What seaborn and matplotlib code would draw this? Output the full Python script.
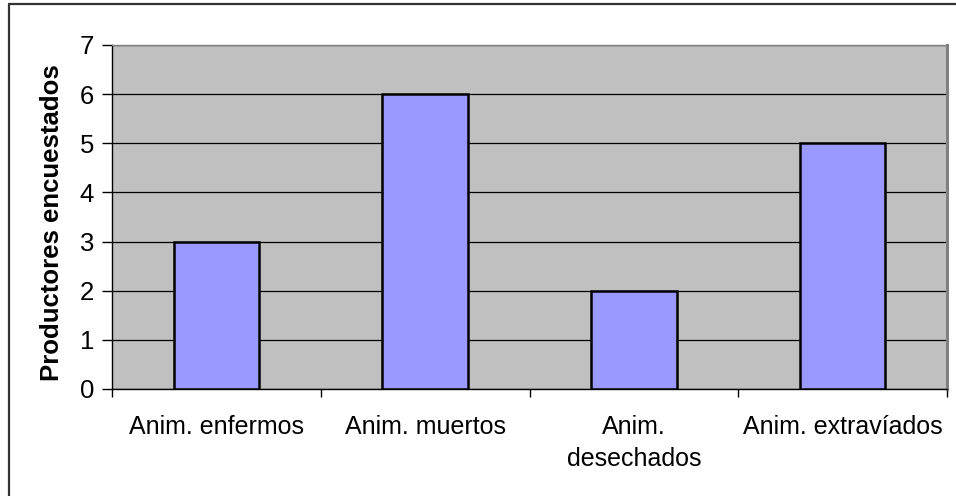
import matplotlib
matplotlib.use("Agg")
import matplotlib.pyplot as plt
import seaborn as sns
import pandas as pd
from matplotlib.lines import Line2D

categories = ["Anim. enfermos", "Anim. muertos", "Anim.\ndesechados", "Anim. extravíados"]
values = [3, 6, 2, 5]
y_ticks = [0, 1, 2, 3, 4, 5, 6, 7]
y_label = "Productores encuestados"

df = pd.DataFrame({"cat": categories, "val": values})

sns.set_theme(style="white")
plt.rcParams["font.family"] = ["Liberation Sans", "DejaVu Sans"]

fig = plt.figure(figsize=(9.56, 4.96), dpi=100)
ax = fig.add_axes([112/956, 1-389/496, (947-112)/956, (389-45)/496])
ax.set_facecolor("#C0C0C0")

sns.barplot(data=df, x="cat", y="val", ax=ax, color="#9999FF", width=0.41,
            edgecolor="black", linewidth=1.8, saturation=1, zorder=3)

ax.set_ylim(0, 7)
ax.set_xlim(-0.5, 3.5)
ax.set_yticks(y_ticks)
ax.set_yticklabels([str(t) for t in y_ticks], fontsize=18.5)
ax.grid(axis="y", color="black", linewidth=0.9, zorder=1)
ax.set_axisbelow(True)

ax.set_xticks(range(len(categories)))
ax.set_xticklabels(categories, fontsize=18, linespacing=1.4)
ax.set_xticks([-0.5, 0.5, 1.5, 2.5, 3.5], minor=True)
ax.tick_params(axis="x", which="major", length=0, pad=19, colors="black")
ax.tick_params(axis="x", which="minor", length=5.5, width=1, color="black", direction="out", bottom=True)
ax.tick_params(axis="y", which="major", length=7, width=1, color="black", direction="out", left=True, pad=6, labelcolor="black")

ax.set_xlabel("")
ax.set_ylabel(y_label, fontsize=18.5, fontweight="bold", color="black")
ax.yaxis.set_label_coords(-0.058, 0.484)

for s in ["left", "bottom"]:
    ax.spines[s].set_color("black")
    ax.spines[s].set_linewidth(1.0)
ax.spines["top"].set_color("#808080")
ax.spines["top"].set_linewidth(1.0)
ax.spines["right"].set_color("#808080")
ax.spines["right"].set_linewidth(2.2)
for s in ax.spines.values():
    s.set_visible(True)

# outer chart border (left and top visible)
fig.add_artist(Line2D([9/956, 9/956], [0, 1-3.5/496], transform=fig.transFigure, color="#333333", linewidth=1.6))
fig.add_artist(Line2D([9/956, 1], [1-3.5/496, 1-3.5/496], transform=fig.transFigure, color="#333333", linewidth=1.6))

fig.savefig("out.png", dpi=100)
